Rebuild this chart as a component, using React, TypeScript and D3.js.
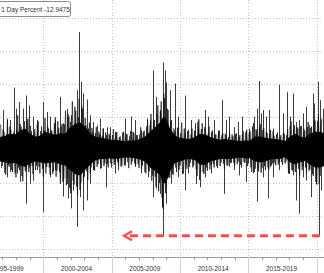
import React from 'react';
import * as d3 from 'd3';

const W = 324;
const H = 273;

// Dense daily-move core band (decimal year, upper / lower percent)
const coreYears = [1996.83, 1997.2, 1997.56, 1997.93, 1998.3, 1998.66, 1999.03, 1999.39, 1999.76, 2000.12, 2000.49, 2000.86, 2001.22, 2001.59, 2001.95, 2002.32, 2002.69, 2003.05, 2003.42, 2003.78, 2004.15, 2004.51, 2004.88, 2005.25, 2005.61, 2005.98, 2006.34, 2006.71, 2007.08, 2007.44, 2007.81, 2008.17, 2008.54, 2008.76, 2008.98, 2009.27, 2009.64, 2010.0, 2010.37, 2010.73, 2011.1, 2011.47, 2011.83, 2012.2, 2012.56, 2012.93, 2013.29, 2013.66, 2014.03, 2014.39, 2014.76, 2015.12, 2015.49, 2015.86, 2016.22, 2016.59, 2016.95, 2017.32, 2017.69, 2018.05, 2018.42, 2018.78, 2019.15, 2019.51, 2019.88, 2020.17, 2020.54];
const coreHigh = [2.0, 2.2, 2.5, 2.4, 3.0, 3.3, 2.5, 2.1, 2.2, 2.8, 2.6, 2.3, 2.6, 2.5, 3.4, 4.0, 4.2, 3.6, 2.6, 2.1, 1.9, 1.8, 1.6, 1.6, 1.5, 1.4, 1.5, 1.5, 1.7, 2.1, 2.8, 3.5, 4.2, 5.0, 4.8, 3.3, 2.2, 1.9, 1.8, 1.7, 2.0, 2.5, 2.4, 2.0, 1.8, 1.6, 1.7, 1.6, 1.5, 1.4, 1.5, 1.5, 2.1, 2.1, 1.9, 1.8, 1.7, 1.6, 1.4, 2.1, 2.5, 2.1, 1.9, 2.5, 2.8, 2.8, 2.6];
const coreLow = [-1.7, -1.8, -2.0, -1.9, -2.3, -2.5, -2.0, -1.7, -1.8, -2.0, -1.9, -1.8, -2.1, -2.3, -3.0, -3.6, -3.8, -3.0, -2.2, -1.6, -1.3, -1.3, -1.2, -1.3, -1.2, -1.1, -1.1, -1.2, -1.4, -1.7, -2.6, -3.1, -3.8, -5.0, -5.0, -3.2, -1.9, -1.7, -1.4, -1.3, -1.5, -2.2, -2.2, -1.7, -1.5, -1.3, -1.3, -1.3, -1.2, -1.1, -1.2, -1.2, -1.7, -1.8, -1.7, -1.4, -1.3, -1.3, -1.0, -1.8, -2.1, -1.8, -1.6, -2.2, -2.6, -2.6, -2.4];

// Fringe of ordinary daily moves, readings every 1/8 year (two interleaved runs)
const fringeStep = 0.125;
const fringeStartA = 1996.875;
const fringeA = [
  3.9, -2.4, 2.8, -3.7, 4.6, -2.5, 3.1, -3.3,
  2.9, -4.1, 5.3, -3.0, 3.6, -4.7, 4.4, -2.9,
  4.8, -2.6, 2.9, -3.6, 3.2, -2.3, 4.4, -3.5,
  3.6, -4.0, 4.9, -2.5, 3.3, -3.7, 2.9, -3.2,
  5.0, -3.1, 3.4, -5.1, 4.0, -4.3, 6.0, -4.2,
  5.1, -6.5, 7.4, -5.2, 6.0, -6.8, 7.8, -4.9,
  6.3, -4.0, 3.8, -4.5, 4.2, -2.6, 2.8, -3.1,
  3.5, -2.1, 2.4, -2.7, 3.3, -2.0, 2.3, -2.6,
  2.2, -2.6, 3.2, -1.8, 2.8, -2.4, 2.1, -2.3,
  2.8, -1.8, 2.4, -2.7, 2.9, -1.7, 2.6, -2.4,
  2.3, -2.7, 3.5, -2.3, 3.0, -3.5, 4.6, -3.2,
  5.5, -3.8, 4.6, -5.5, 6.8, -4.9, 7.4, -8.8,
  7.9, -5.5, 6.1, -4.1, 4.6, -3.7, 2.9, -3.3,
  3.5, -2.3, 4.2, -3.5, 2.5, -2.8, 3.1, -1.9,
  3.3, -2.3, 2.8, -3.9, 4.7, -3.4, 4.1, -3.6,
  2.7, -3.1, 3.6, -2.2, 3.0, -2.6, 2.4, -2.7,
  3.0, -1.9, 2.6, -2.8, 2.2, -2.3, 2.7, -1.9,
  2.1, -2.3, 2.6, -1.7, 2.3, -2.6, 2.9, -1.9,
  3.1, -2.0, 2.9, -3.3, 4.1, -2.8, 3.0, -3.2,
  4.0, -2.7, 3.4, -3.0, 2.6, -2.9, 3.1, -2.0,
  2.2, -2.3, 2.7, -1.8, 2.3, -2.2, 2.5, -1.7,
  3.2, -3.6, 4.4, -3.1, 3.8, -2.6, 3.3, -3.9,
  3.7, -2.5, 3.0, -3.4, 4.3, -2.9, 3.6, -3.9,
  4.5, -5.2, 5.4, -3.9, 4.8
];
const fringeStartB = 1996.9375;
const fringeB = [
  -2.7, 3.2, -3.4, 2.4, -2.2, 3.6, -3.0, 2.6,
  -3.5, 3.1, -2.6, 4.0, -3.9, 2.7, -3.2, 4.5,
  -3.3, 3.7, -2.4, 2.6, -3.0, 3.9, -2.5, 2.9,
  -2.8, 3.0, -3.5, 3.9, -2.6, 3.1, -3.6, 4.1,
  -4.0, 4.4, -3.3, 3.6, -4.8, 3.9, -5.3, 5.5,
  -5.7, 5.3, -4.6, 6.6, -5.5, 5.0, -6.0, 6.7,
  -4.7, 4.9, -3.2, 3.3, -3.5, 3.4, -2.9, 2.6,
  -2.5, 2.8, -2.0, 2.2, -2.4, 2.7, -2.1, 2.5,
  -2.0, 2.3, -2.2, 2.6, -1.8, 2.0, -2.5, 2.7,
  -2.3, 2.5, -1.8, 2.1, -2.2, 2.8, -2.0, 2.3,
  -2.1, 2.4, -2.8, 2.7, -3.3, 3.6, -2.9, 3.8,
  -4.6, 4.4, -4.0, 5.5, -6.2, 5.9, -7.2, 8.6,
  -6.5, 6.3, -4.2, 4.4, -3.6, 3.3, -2.6, 3.4,
  -2.9, 2.6, -3.6, 3.3, -2.2, 2.9, -2.5, 2.4,
  -2.6, 3.0, -2.9, 4.3, -4.5, 3.2, -3.3, 3.5,
  -2.6, 2.5, -2.9, 2.8, -2.1, 2.4, -2.4, 2.6,
  -2.4, 2.3, -2.0, 2.5, -2.3, 2.0, -1.9, 2.4,
  -1.9, 2.4, -2.1, 2.0, -2.2, 2.3, -1.8, 2.7,
  -2.4, 2.6, -2.6, 3.6, -3.3, 3.2, -2.7, 3.6,
  -3.4, 3.1, -2.4, 2.8, -2.6, 2.4, -2.3, 2.9,
  -1.9, 2.4, -2.2, 2.0, -1.8, 2.6, -2.0, 2.3,
  -3.4, 3.7, -3.0, 3.2, -3.3, 3.5, -2.8, 3.6,
  -3.0, 3.3, -2.6, 3.5, -3.1, 3.4, -3.6, 4.5,
  -4.8, 4.4, -5.1, 4.6
];

// Individual large daily moves (decimal year, percent)
const spikeYears = [
  1997.03, 1997.32, 1997.56, 1997.86, 1998.0, 1998.24, 1998.49, 1998.73, 1998.98, 1999.22, 1999.52, 1999.96,
  2000.25, 2000.49, 2000.86, 2001.22, 2001.46, 2001.71, 2001.95, 2002.49, 2002.63, 2002.74, 2002.93, 2003.18,
  2003.42, 2003.66, 2003.91, 2004.15, 2004.39, 2004.64, 2004.86, 2005.22, 2005.96, 2006.4, 2006.69, 2007.17,
  2007.61, 2007.79, 2008.03, 2008.27, 2008.52, 2008.76, 2008.88, 2009.0, 2009.25, 2009.62, 2009.86, 2010.35,
  2010.83, 2011.08, 2011.32, 2011.81, 2012.05, 2012.49, 2012.76, 2013.08, 2013.37, 2013.61, 2013.98, 2014.22,
  2014.54, 2014.83, 2015.07, 2015.44, 2015.61, 2015.76, 2015.93, 2016.1, 2016.3, 2016.54, 2016.79, 2017.27,
  2017.52, 2017.81, 2018.05, 2018.29, 2018.49, 2018.73, 2018.98, 2019.22, 2019.46, 2019.71, 2019.83, 2020.08,
  2020.25, 2020.44,
  1997.32, 1997.56, 1998.05, 1998.3, 1998.73, 1999.03, 1999.27, 1999.52, 2000.0, 2000.49, 2000.86, 2001.22,
  2001.42, 2001.71, 2001.83, 2002.0, 2002.15, 2002.44, 2002.69, 2002.88, 2003.18, 2003.42, 2003.66, 2004.15,
  2004.59, 2005.22, 2005.47, 2005.96, 2006.69, 2007.17, 2007.66, 2008.03, 2008.27, 2008.52, 2008.69, 2008.76,
  2009.0, 2009.37, 2009.86, 2010.35, 2010.59, 2011.2, 2011.44, 2011.81, 2012.29, 2013.24, 2013.61, 2013.98,
  2014.34, 2014.83, 2015.32, 2015.61, 2016.05, 2016.42, 2016.59, 2016.79, 2017.27, 2017.88, 2018.25, 2018.49,
  2018.73, 2019.03, 2019.22, 2019.59, 2019.95, 2020.15, 2020.34
];
const spikeValues = [
  6.1, 4.8, 4.6, 9.5, 6.3, 7.3, 6.3, 8.3, 6.8, 5.1, 4.6, 7.3,
  5.8, 5.1, 4.6, 8.1, 4.1, 6.3, 4.3, 9.1, 17.9, 10.4, 8.6, 7.7,
  5.3, 4.3, 3.8, 4.8, 3.3, 3.5, 3.5, 2.8, 4.8, 5.1, 4.6, 3.0,
  4.8, 4.6, 12.1, 8.1, 6.1, 13.3, 12.1, 10.3, 9.1, 10.1, 5.1, 8.3,
  4.6, 4.1, 3.3, 6.1, 5.1, 4.6, 3.0, 7.6, 4.6, 5.1, 3.5, 4.3,
  5.1, 3.0, 3.3, 5.1, 6.3, 10.5, 5.6, 6.1, 5.1, 6.1, 3.3, 9.9,
  5.6, 8.8, 5.1, 8.6, 4.3, 4.6, 5.6, 6.6, 3.8, 8.6, 7.1, 10.4,
  7.6, 6.3,
  -4.1, -3.3, -3.5, -4.8, -8.1, -5.1, -4.6, -3.0, -9.4, -4.1, -3.0, -4.3,
  -7.0, -5.1, -7.3, -8.8, -6.1, -11.6, -7.1, -9.1, -7.6, -5.1, -3.0, -2.8,
  -5.6, -3.5, -3.0, -2.3, -2.5, -3.5, -4.1, -7.1, -5.8, -6.6, -8.6, -12.9,
  -8.1, -5.1, -4.1, -6.1, -3.5, -5.1, -5.6, -4.1, -3.5, -6.6, -2.5, -3.0,
  -3.8, -4.8, -3.5, -7.8, -4.1, -7.3, -2.5, -4.1, -3.0, -3.5, -3.8, -7.6,
  -9.6, -4.1, -4.6, -7.1, -5.1, -12.95, -6.1
];

const yTicks = [-15, -10, -5, 0, 5, 10, 15, 20];
const periodStarts = [1995, 2000, 2005, 2010, 2015, 2020];
const periodLabels = ['1995-1999', '2000-2004', '2005-2009', '2010-2014', '2015-2019'];
const yearTicks = d3.range(1996, 2021);
const legendLabel = '1 Day Percent';
const lastValue = -12.9475;
const arrowFromYear = 2020.6;
const arrowToYear = 2005.9;

export default function App() {
  const x = d3.scaleLinear().domain([2000, 2020]).range([43.3, 316.7]);
  const y = d3.scaleLinear().domain([-15, 20]).range([249.3, 18.3]);
  const axisY = 257;

  const core = coreYears.map((t, i) => ({ t, hi: coreHigh[i], lo: coreLow[i] }));
  const area = d3
    .area<{ t: number; hi: number; lo: number }>()
    .x((d) => x(d.t))
    .y0((d) => y(d.lo))
    .y1((d) => y(d.hi));

  const toPts = (start: number, vals: number[]) =>
    vals.map((v, i) => [start + i * fringeStep, v] as [number, number]);
  const fringeLine = d3
    .line<[number, number]>()
    .x((d) => x(d[0]))
    .y((d) => y(d[1]));

  const px = (v: number) => Math.round(v) + 0.5;
  const arrowY = y(lastValue);
  const ax0 = x(arrowToYear);
  const ax1 = x(arrowFromYear);

  return (
    <svg
      width={W}
      height={H}
      style={{ position: 'absolute', left: 0, top: 0, background: '#fff' }}
      fontFamily="'Liberation Sans', Arial, sans-serif"
    >
      <defs>
        <clipPath id="plot">
          <rect x={0} y={0} width={W} height={axisY} />
        </clipPath>
      </defs>
      {/* grid */}
      <g stroke="#c4c4c4" strokeWidth={1} strokeDasharray="1,2">
        {yTicks.map((v) => (
          <line key={'h' + v} x1={0} x2={W} y1={px(y(v))} y2={px(y(v))} />
        ))}
        {periodStarts.map((p) => (
          <line key={'v' + p} x1={px(x(p))} x2={px(x(p))} y1={0} y2={axisY} />
        ))}
      </g>
      {/* data */}
      <g clipPath="url(#plot)">
        {spikeYears.map((t, i) => (
          <line
            key={'s' + i}
            x1={px(x(t))}
            x2={px(x(t))}
            y1={y(0)}
            y2={y(spikeValues[i])}
            stroke="#3c3c3c"
            strokeWidth={1}
          />
        ))}
        <path d={fringeLine(toPts(fringeStartA, fringeA)) || ''} fill="none" stroke="#111" strokeWidth={0.7} />
        <path d={fringeLine(toPts(fringeStartB, fringeB)) || ''} fill="none" stroke="#111" strokeWidth={0.7} />
        <path d={area(core) || ''} fill="#000" />
      </g>
      {/* axis */}
      <line x1={0} x2={W} y1={axisY + 0.5} y2={axisY + 0.5} stroke="#9a9a9a" />
      <g stroke="#9a9a9a">
        {yearTicks.map((t) => (
          <line key={'m' + t} x1={px(x(t))} x2={px(x(t))} y1={axisY} y2={axisY + 3} />
        ))}
      </g>
      <g stroke="#d0d0d0">
        {periodStarts.map((p) => (
          <line key={'p' + p} x1={px(x(p))} x2={px(x(p))} y1={axisY} y2={H} />
        ))}
      </g>
      <g fontSize={6.5} fill="#333" textAnchor="middle">
        {periodLabels.map((l, i) => (
          <text key={l} x={x(periodStarts[i] + 2.5) - 1} y={270.8}>
            {l}
          </text>
        ))}
      </g>
      {/* arrow */}
      <g stroke="#ff4a4a" strokeWidth={3} fill="none">
        <line x1={ax0 + 6} x2={ax1} y1={arrowY} y2={arrowY} strokeDasharray="8,5" />
        <polyline
          points={`${ax0 + 8},${arrowY - 4.5} ${ax0},${arrowY} ${ax0 + 8},${arrowY + 4.5}`}
          strokeWidth={2.2}
          strokeLinejoin="miter"
        />
      </g>
      {/* legend */}
      <rect x={-3} y={1.5} width={73.5} height={15} rx={2} fill="#fff" stroke="#8c8c8c" />
      <text x={1.2} y={11.6} fontSize={6.5} fill="#333">
        {`${legendLabel} ${lastValue}`}
      </text>
    </svg>
  );
}
